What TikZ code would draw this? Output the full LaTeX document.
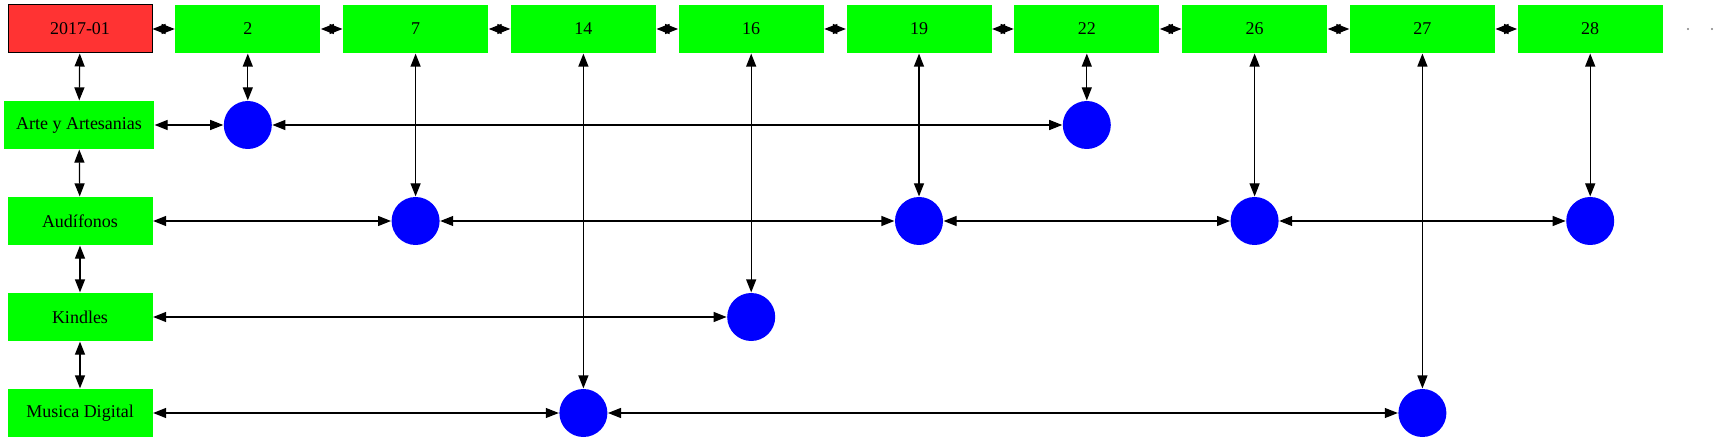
\documentclass[tikz,border=0pt]{standalone}
\usepackage{fontspec}
\setmainfont{Liberation Serif}
\usetikzlibrary{arrows.meta}
\definecolor{verde}{RGB}{0,255,0}
\definecolor{rojo}{RGB}{255,51,51}
\definecolor{azul}{RGB}{0,0,255}

\begin{document}
\begin{tikzpicture}[x=0.5pt, y=-0.5pt, font=\fontsize{9}{10}\selectfont,
 >={Triangle[length=6.5pt,width=5pt]}, line width=0.6pt,
 box/.style={fill=verde, minimum width=72.5pt, minimum height=24pt, inner sep=0pt},
 bola/.style={circle, fill=azul, minimum size=24pt, inner sep=0pt}]
 \useasboundingbox (0,0) rectangle (1717,443);
 \node[box, fill=rojo, draw, line width=0.5pt, minimum width=72pt] (mes) at (80,29) {2017-01};
 \foreach \d [count=\i] in {2,7,14,16,19,22,26,27,28}
  \node[box] (d\d) at (80+167.8*\i,29) {\d};
 \foreach \x/\n in {1688/p1,1712/p2}
  \node[circle, fill=gray, inner sep=0pt, minimum size=1.2pt] (\n) at (\x,29) {};
%categorias
 \node[box, minimum width=75pt] (arte) at (79,125) {Arte y Artesanias};
 \node[box] (aud) at (80,221) {Audífonos};
 \node[box] (kin) at (80,317) {Kindles};
 \node[box] (mus) at (80,413) {Musica Digital};
%puntos
 \foreach \d in {2,22} \node[bola] (arte\d) at (d\d |- arte) {};
 \foreach \d in {7,19,26,28} \node[bola] (aud\d) at (d\d |- aud) {};
 \node[bola] (kin16) at (d16 |- kin) {};
 \foreach \d in {14,27} \node[bola] (mus\d) at (d\d |- mus) {};
%flechas
 \draw[<->] (mes) -- (d2);
 \foreach \a/\b in {2/7,7/14,14/16,16/19,19/22,22/26,26/27,27/28}
  \draw[<->] (d\a) -- (d\b);
 \draw[<->] (mes) -- (arte);
 \draw[<->] (arte) -- (aud);
 \draw[<->] (aud) -- (kin);
 \draw[<->] (kin) -- (mus);
 \foreach \d in {2,22} \draw[<->] (d\d) -- (arte\d);
 \foreach \d in {7,19,26,28} \draw[<->] (d\d) -- (aud\d);
 \draw[<->] (d16) -- (kin16);
 \foreach \d in {14,27} \draw[<->] (d\d) -- (mus\d);
 \draw[<->] (arte) -- (arte2);
 \draw[<->] (arte2) -- (arte22);
 \draw[<->] (aud) -- (aud7);
 \draw[<->] (aud7) -- (aud19);
 \draw[<->] (aud19) -- (aud26);
 \draw[<->] (aud26) -- (aud28);
 \draw[<->] (kin) -- (kin16);
 \draw[<->] (mus) -- (mus14);
 \draw[<->] (mus14) -- (mus27);
\end{tikzpicture}
\end{document}
